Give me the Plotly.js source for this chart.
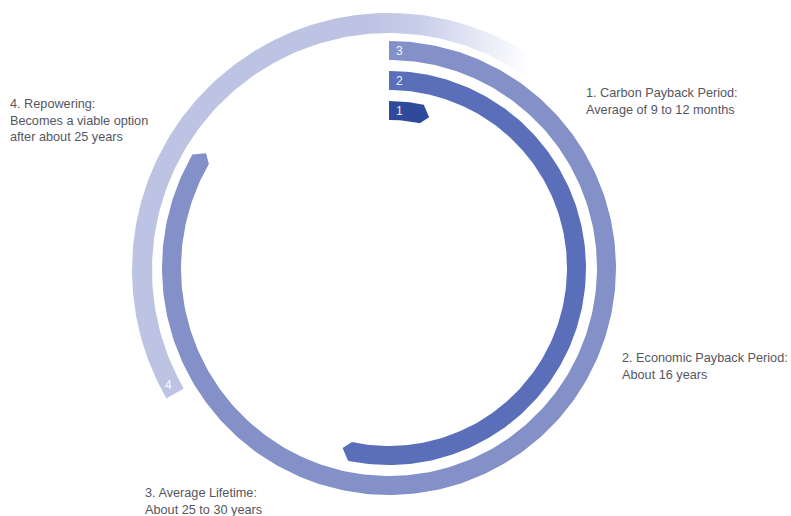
<!DOCTYPE html>
<html><head><meta charset="utf-8">
<script src="https://cdn.plot.ly/plotly-3.0.1.min.js"></script>
<style>html,body{margin:0;padding:0;background:#fff}#chart{width:791px;height:516px}</style>
</head><body><div id="chart"></div>
<script>
// ---- data ----
const phaseIds = ['1', '2', '3', '4'];
const startYears = [0, 0, 0, 20];
const endYears = [1, 16, 25, 33];
const yearsPerTurn = 30;
const captionTitles = ['1. Carbon Payback Period:', '2. Economic Payback Period:', '3. Average Lifetime:', '4. Repowering:'];
const captionLines = [['Average of 9 to 12 months'], ['About 16 years'], ['About 25 to 30 years'], ['Becomes a viable option', 'after about 25 years']];

// ---- style ----
const ringMid = [157.5, 187.5, 217.5, 247];
const ringHalf = [9.5, 9.5, 9.5, 10];
const ringDy = [0, 0, 0, -2];
const colors = ['#2f4a9b', '#5b6eb9', '#8491c9', '#bdc4e3'];
const hasTip = [true, true, true, false];
const TIP = 8;
const CX = 389, CY = 268; // pixel centre
const captionPos = [[584, 93], [620, 358], [143, 493], [8, 104]]; // pixel positions of first line
const lineGap = 16.5;
const textFont = {family: 'Liberation Sans, Arial, sans-serif', size: 12.7, color: '#55565f'};

const rad = d => d * Math.PI / 180;
const pt = (r, deg, dy) => [r * Math.sin(rad(deg)), r * Math.cos(rad(deg)) + (dy || 0)];

function arcPolygon(i) {
  const a0 = startYears[i] / yearsPerTurn * 360;
  const a1 = endYears[i] / yearsPerTurn * 360;
  const ro = ringMid[i] + ringHalf[i], ri = ringMid[i] - ringHalf[i];
  const xs = [], ys = [];
  const n = Math.max(4, Math.ceil(a1 - a0));
  for (let k = 0; k <= n; k++) { const p = pt(ro, a0 + (a1 - a0) * k / n, ringDy[i]); xs.push(p[0]); ys.push(p[1]); }
  if (hasTip[i]) {
    const tipDeg = TIP / ringMid[i] * 180 / Math.PI;
    const p = pt(ringMid[i] - 1.5, a1 + tipDeg, ringDy[i]); xs.push(p[0]); ys.push(p[1]);
  }
  for (let k = n; k >= 0; k--) { const p = pt(ri, a0 + (a1 - a0) * k / n, ringDy[i]); xs.push(p[0]); ys.push(p[1]); }
  xs.push(xs[0]); ys.push(ys[0]);
  return {xs, ys};
}

const traces = phaseIds.map((id, i) => {
  const poly = arcPolygon(i);
  const t = {
    type: 'scatter', mode: 'lines', x: poly.xs, y: poly.ys, fill: 'toself',
    fillcolor: colors[i], line: {width: 0, color: colors[i]}, hoverinfo: 'skip', showlegend: false
  };
  if (i === 3) {
    t.fillgradient = {type: 'horizontal', start: -20, stop: 140,
      colorscale: [[0, colors[i]], [0.3, '#c8cde9'], [1, '#ffffff']]};
  }
  return t;
});

const annotations = [];
// phase numbers at the start of each arc
phaseIds.forEach((id, i) => {
  let p;
  if (i < 3) {
    const a = Math.asin(10 / ringMid[i]) * 180 / Math.PI + startYears[i] / yearsPerTurn * 360;
    p = pt(ringMid[i], a, ringDy[i]);
  } else {
    p = pt(ringMid[i] + 2, startYears[i] / yearsPerTurn * 360 + 2.5, ringDy[i]);
  }
  annotations.push({x: p[0], y: p[1], xref: 'x', yref: 'y', text: id, showarrow: false,
    xanchor: 'center', yanchor: 'middle', font: {family: 'Liberation Sans, Arial, sans-serif', size: 12, color: 'rgba(255,255,255,0.92)'}});
});
// captions
captionTitles.forEach((title, i) => {
  const lines = [title].concat(captionLines[i]);
  lines.forEach((ln, j) => {
    annotations.push({x: captionPos[i][0] - CX, y: CY - (captionPos[i][1] + j * lineGap), xref: 'x', yref: 'y',
      text: ln, showarrow: false, xanchor: 'left', yanchor: 'middle', font: textFont});
  });
});

const layout = {
  width: 791, height: 516, margin: {l: 0, r: 0, t: 0, b: 0},
  paper_bgcolor: '#ffffff', plot_bgcolor: '#ffffff',
  xaxis: {range: [-CX, 791 - CX], visible: false, fixedrange: true},
  yaxis: {range: [CY - 516, CY], visible: false, fixedrange: true},
  annotations, showlegend: false
};
Plotly.newPlot('chart', traces, layout, {displayModeBar: false, staticPlot: true});
</script></body></html>
